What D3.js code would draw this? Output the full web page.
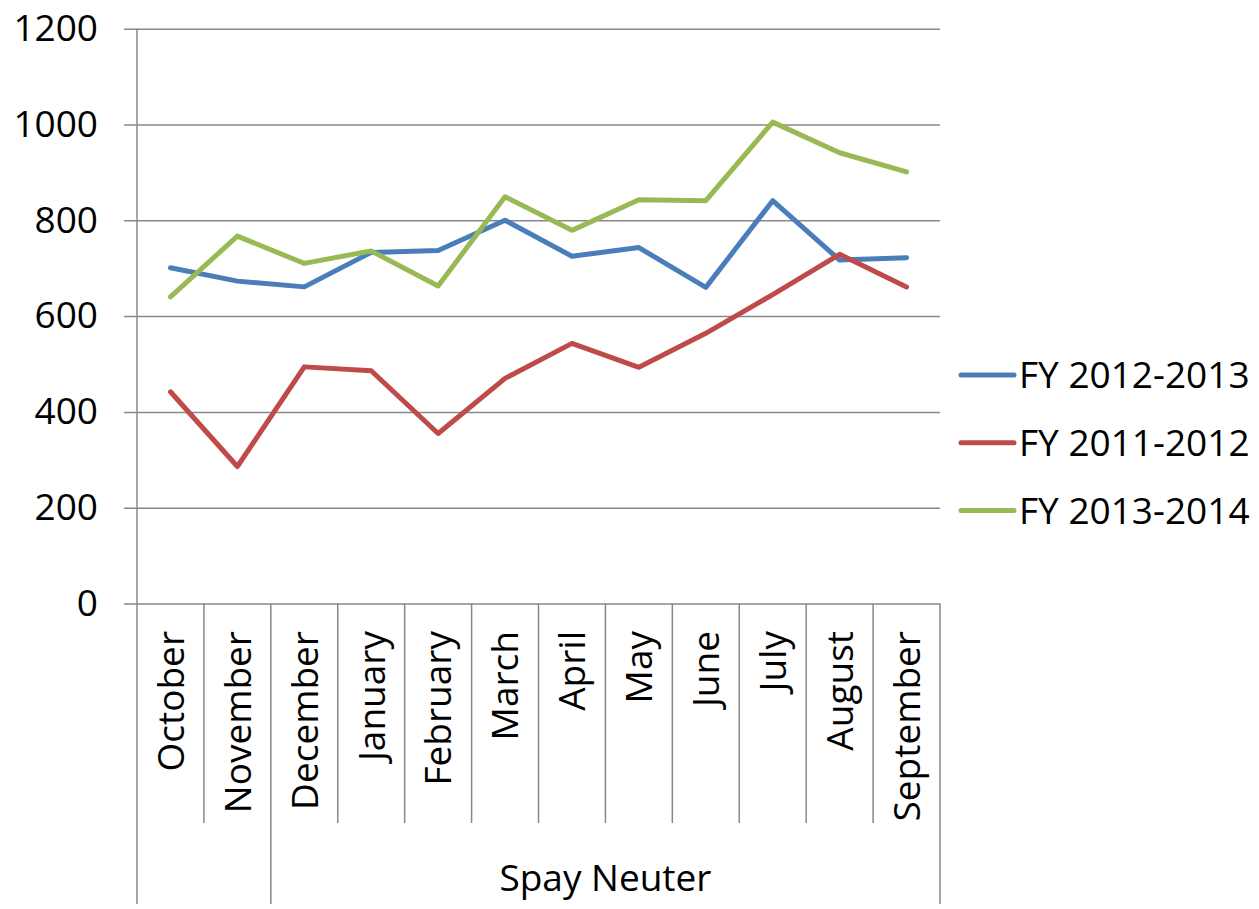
<!DOCTYPE html>
<html>
<head>
<meta charset="utf-8">
<script src="https://cdn.jsdelivr.net/npm/d3@7"></script>
<style>
  body { margin: 0; background: #fff; }
  text { font-family: "Open Sans", sans-serif; fill: #000; }
</style>
</head>
<body>
<div class="chart"></div>
<script>
const w = 1259;
const h = 909;

// data
const months = ["October", "November", "December", "January", "February", "March",
  "April", "May", "June", "July", "August", "September"];
const fy1213 = [701, 673, 661, 733, 737, 800, 725, 743, 660, 841, 717, 722];
const fy1112 = [442, 286, 494, 486, 355, 470, 543, 493, 564, 645, 729, 661];
const fy1314 = [640, 767, 710, 736, 663, 849, 779, 843, 841, 1005, 941, 901];
const seriesNames = ["FY 2012-2013", "FY 2011-2012", "FY 2013-2014"];
const seriesColors = ["#4a7ebb", "#be4b48", "#98b954"];
const yTicks = [0, 200, 400, 600, 800, 1000, 1200];
// category groups: first index of each group and its label
const groupStarts = [0, 2];
const groupLabels = ["", "Spay Neuter"];

const series = [fy1213, fy1112, fy1314];

const plotLeft = 137, plotRight = 940, plotTop = 28.7, plotBottom = 603.5;
const gridColor = "#888";

const svg = d3.select(".chart")
  .append("svg")
  .attr("width", w)
  .attr("height", h);

const xScale = d3.scaleBand().domain(months).range([plotLeft, plotRight]);
const yScale = d3.scaleLinear().domain([0, 1200]).range([plotBottom, plotTop]);

// gridlines + y labels
const yAxis = d3.axisLeft(yScale)
  .tickValues(yTicks)
  .tickSize(-(plotRight - plotLeft))
  .tickPadding(0)
  .tickFormat(d3.format("d"));

const yG = svg.append("g")
  .attr("transform", `translate(${plotLeft},0)`)
  .call(yAxis);
yG.select(".domain").remove();
yG.selectAll(".tick line")
  .attr("x1", -13)
  .attr("stroke", gridColor)
  .attr("stroke-width", 1.5);
yG.selectAll(".tick text")
  .attr("x", -39)
  .attr("font-size", 37)
  .attr("font-family", "Open Sans")
  .attr("fill", "#000");

// left axis line, runs down through the category area
svg.append("line")
  .attr("x1", plotLeft).attr("x2", plotLeft)
  .attr("y1", plotTop).attr("y2", 904)
  .attr("stroke", gridColor).attr("stroke-width", 1.5);

// category separators
const inner = months.slice(1).map((m, i) => i + 1);
svg.selectAll(".sep")
  .data(inner.filter((i) => !groupStarts.includes(i)))
  .enter()
  .append("line")
  .attr("class", "sep")
  .attr("x1", (i) => xScale(months[i]))
  .attr("x2", (i) => xScale(months[i]))
  .attr("y1", plotBottom).attr("y2", 823)
  .attr("stroke", gridColor).attr("stroke-width", 1.5);

// group separators (long)
svg.selectAll(".gsep")
  .data(groupStarts.filter((i) => i > 0))
  .enter()
  .append("line")
  .attr("class", "gsep")
  .attr("x1", (i) => xScale(months[i]))
  .attr("x2", (i) => xScale(months[i]))
  .attr("y1", plotBottom).attr("y2", 904)
  .attr("stroke", gridColor).attr("stroke-width", 1.5);

svg.append("line")
  .attr("x1", plotRight).attr("x2", plotRight)
  .attr("y1", plotBottom).attr("y2", 904)
  .attr("stroke", gridColor).attr("stroke-width", 1.5);

// month labels
svg.selectAll(".month")
  .data(months)
  .enter()
  .append("text")
  .attr("class", "month")
  .attr("transform", (d) => `translate(${xScale(d) + xScale.bandwidth() / 2},631) rotate(-90)`)
  .attr("text-anchor", "end")
  .attr("dy", "0.36em")
  .attr("font-size", 37)
  .text((d) => d);

// group labels
groupLabels.forEach((label, g) => {
  const a = groupStarts[g];
  const b = g + 1 < groupStarts.length ? groupStarts[g + 1] - 1 : months.length - 1;
  const x0 = xScale(months[a]);
  const x1 = xScale(months[b]) + xScale.bandwidth();
  svg.append("text")
    .attr("x", (x0 + x1) / 2)
    .attr("y", 891)
    .attr("text-anchor", "middle")
    .attr("font-size", 37)
    .text(label);
});

// lines
const line = d3.line()
  .x((d, i) => xScale(months[i]) + xScale.bandwidth() / 2)
  .y((d) => yScale(d));

series.forEach((vals, s) => {
  svg.append("path")
    .datum(vals)
    .attr("d", line)
    .attr("fill", "none")
    .attr("stroke", seriesColors[s])
    .attr("stroke-width", 5)
    .attr("stroke-linejoin", "round")
    .attr("stroke-linecap", "round");
});

// legend
const legend = svg.append("g");
seriesNames.forEach((name, s) => {
  const y = 375 + s * 67.8;
  legend.append("line")
    .attr("x1", 961).attr("x2", 1014)
    .attr("y1", y).attr("y2", y)
    .attr("stroke", seriesColors[s])
    .attr("stroke-width", 5)
    .attr("stroke-linecap", "round");
  legend.append("text")
    .attr("x", 1019)
    .attr("y", y)
    .attr("dy", "0.36em")
    .attr("font-size", 37)
    .text(name);
});
</script>
</body>
</html>
